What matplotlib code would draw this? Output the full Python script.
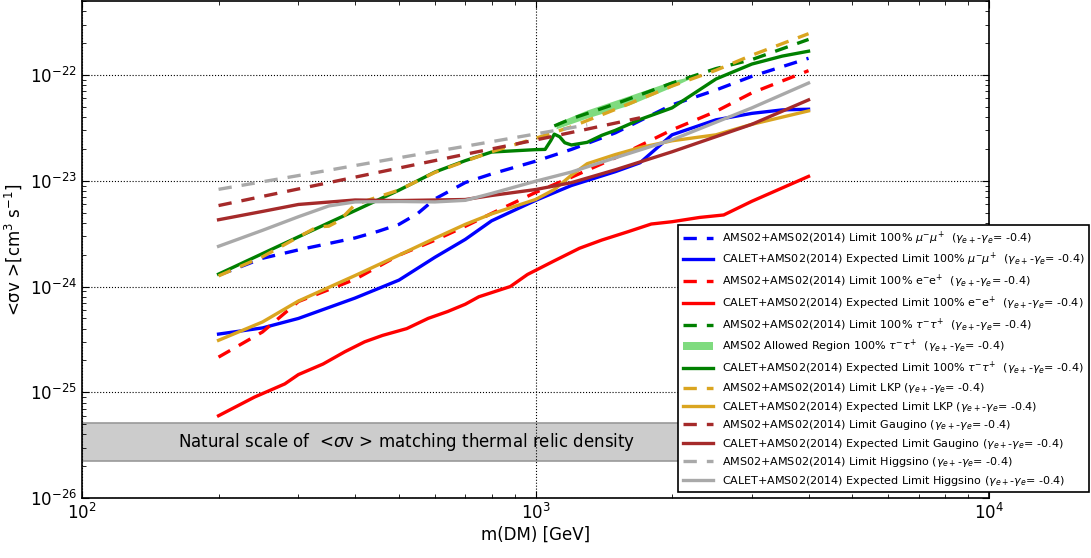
import numpy as np
import matplotlib
matplotlib.use('Agg')
import matplotlib.pyplot as plt

# ---- data (mass in GeV, <sigma v> in cm^3/s)
m_std = [200, 250, 300, 400, 500, 600, 700, 800, 1000, 1200, 1500, 2000, 2500, 3000, 4000]

mu_lim_m = [200, 250, 300, 400, 450, 500, 550, 600, 700, 800, 1000, 1200, 1500, 2000, 2500, 3000, 4000]
mu_lim = [1.28e-24, 1.85e-24, 2.22e-24, 2.88e-24, 3.33e-24, 3.87e-24, 4.91e-24, 6.73e-24, 9.62e-24,
          1.16e-23, 1.53e-23, 1.98e-23, 2.84e-23, 5.22e-23, 7.22e-23, 9.72e-23, 1.44e-22]

mu_exp_m = [200, 250, 300, 400, 500, 600, 700, 800, 1000, 1200, 1500, 1700, 2000, 2500, 3000, 3500, 4000]
mu_exp = [3.55e-25, 4.06e-25, 4.99e-25, 7.78e-25, 1.15e-24, 1.89e-24, 2.79e-24, 4.18e-24, 6.52e-24,
          9.02e-24, 1.22e-23, 1.48e-23, 2.72e-23, 3.77e-23, 4.34e-23, 4.68e-23, 4.75e-23]

e_lim = [2.15e-25, 3.72e-25, 7.21e-25, 1.17e-24, 1.98e-24, 2.74e-24, 3.71e-24, 4.91e-24, 7.75e-24,
         1.08e-23, 1.65e-23, 3.03e-23, 4.53e-23, 6.78e-23, 1.10e-22]

e_exp_m = [200, 240, 280, 300, 340, 380, 420, 460, 520, 580, 640, 700, 750, 880, 960, 1100, 1250, 1400,
           1600, 1800, 2000, 2300, 2600, 3000, 4000]
e_exp = [6.0e-26, 9.0e-26, 1.2e-25, 1.47e-25, 1.85e-25, 2.42e-25, 3.0e-25, 3.45e-25, 4.0e-25, 5.0e-25,
         5.8e-25, 6.8e-25, 8.0e-25, 1.0e-24, 1.3e-24, 1.75e-24, 2.3e-24, 2.75e-24, 3.3e-24, 3.9e-24,
         4.1e-24, 4.5e-24, 4.75e-24, 6.4e-24, 1.10e-23]

tau_lim_m = [1100, 1200, 1500, 2000, 2500, 3000, 4000]
tau_lim = [3.3e-23, 3.86e-23, 5.33e-23, 8.4e-23, 1.15e-22, 1.40e-22, 2.17e-22]

band_m = [1110, 1300, 1600, 2000, 2300]
band_lo = [3.10e-23, 3.93e-23, 5.16e-23, 7.7e-23, 1.02e-22]
band_hi = [3.53e-23, 4.68e-23, 6.34e-23, 8.8e-23, 1.02e-22]

tau_exp_m = [200, 300, 400, 500, 600, 700, 800, 1000, 1050, 1080, 1100, 1130, 1160, 1200, 1300,
             1400, 1500, 1700, 2000, 2500, 3000, 3500, 4000]
tau_exp = [1.31e-24, 2.95e-24, 5.22e-24, 8.15e-24, 1.21e-23, 1.55e-23, 1.87e-23, 1.97e-23, 1.98e-23,
           2.39e-23, 2.76e-23, 2.61e-23, 2.29e-23, 2.18e-23, 2.31e-23, 2.69e-23, 3.0e-23, 3.8e-23,
           4.89e-23, 9.17e-23, 1.27e-22, 1.51e-22, 1.68e-22]

lkp_lim_m = [200, 250, 300, 330, 350, 370, 400, 500, 600, 700, 800, 1000, 1200, 1500, 2000, 2500, 3000, 4000]
lkp_lim = [1.26e-24, 1.91e-24, 2.94e-24, 3.66e-24, 3.72e-24, 4.22e-24, 5.97e-24, 8.17e-24, 1.2e-23,
           1.53e-23, 1.88e-23, 2.52e-23, 3.24e-23, 4.73e-23, 7.87e-23, 1.11e-22, 1.54e-22, 2.46e-22]

lkp_exp_m = [200, 250, 300, 400, 500, 600, 700, 800, 1000, 1100, 1200, 1300, 1500, 1700, 2000, 2500, 3000, 4000]
lkp_exp = [3.1e-25, 4.62e-25, 7.29e-25, 1.27e-24, 1.98e-24, 2.86e-24, 3.87e-24, 4.86e-24, 6.65e-24,
           8.26e-24, 1.13e-23, 1.45e-23, 1.77e-23, 2.06e-23, 2.39e-23, 2.72e-23, 3.42e-23, 4.58e-23]

gau_lim_m = [200, 300, 500, 700, 1000, 1300, 1700]
gau_lim = [5.83e-24, 8.37e-24, 1.32e-23, 1.78e-23, 2.43e-23, 3.08e-23, 3.94e-23]

gau_exp_m = [200, 250, 300, 400, 500, 700, 800, 1000, 1200, 1500, 2000, 3000, 4000]
gau_exp = [4.28e-24, 5.13e-24, 5.97e-24, 6.58e-24, 6.5e-24, 6.65e-24, 7.26e-24, 8.26e-24, 9.6e-24,
           1.27e-23, 1.88e-23, 3.42e-23, 5.82e-23]

hig_lim_m = [200, 300, 500, 700, 1000, 1300]
hig_lim = [8.3e-24, 1.12e-23, 1.65e-23, 2.12e-23, 2.77e-23, 3.38e-23]

hig_exp_m = [200, 250, 300, 350, 400, 500, 600, 700, 800, 1000, 1200, 1500, 2000, 3000, 4000]
hig_exp = [2.40e-24, 3.40e-24, 4.57e-24, 5.78e-24, 6.31e-24, 6.37e-24, 6.31e-24, 6.53e-24, 7.59e-24,
           9.9e-24, 1.21e-23, 1.65e-23, 2.44e-23, 4.89e-23, 8.4e-23]

relic_lo = 2.22e-26
relic_hi = 5.17e-26

gam = r'($\gamma_{e+}$-$\gamma_{e}$= -0.4)'

fig = plt.figure(figsize=(10.91, 5.58), dpi=100)
ax = fig.add_axes([0.0752, 0.1075, 0.8313, 0.8905])

lw = 2.4
dsh = (4, 3)

ax.axhspan(relic_lo, relic_hi, facecolor='0.8', edgecolor='0.6', lw=1.2, zorder=0)
ax.text(521, 3.4e-26, r'Natural scale of  <$\sigma$v > matching thermal relic density',
        fontsize=12, ha='center', va='center')

ax.plot(mu_lim_m, mu_lim, color='b', lw=lw, ls='--', dashes=dsh,
        label=r'AMS02+AMS02(2014) Limit 100% $\mu^{-}\mu^{+}$  ' + gam)
ax.plot(mu_exp_m, mu_exp, color='b', lw=lw,
        label=r'CALET+AMS02(2014) Expected Limit 100% $\mu^{-}\mu^{+}$  ' + gam)
ax.plot(m_std, e_lim, color='r', lw=lw, ls='--', dashes=dsh,
        label=r'AMS02+AMS02(2014) Limit 100% e$^{-}$e$^{+}$  ' + gam)
ax.plot(e_exp_m, e_exp, color='r', lw=lw,
        label=r'CALET+AMS02(2014) Expected Limit 100% e$^{-}$e$^{+}$  ' + gam)
ax.plot(tau_lim_m, tau_lim, color='g', lw=lw, ls='--', dashes=dsh,
        label=r'AMS02+AMS02(2014) Limit 100% $\tau^{-}\tau^{+}$  ' + gam)
ax.fill_between(band_m, band_lo, band_hi, color='#5fd35f', alpha=0.8, lw=0,
                label=r'AMS02 Allowed Region 100% $\tau^{-}\tau^{+}$  ' + gam)
ax.plot(tau_exp_m, tau_exp, color='g', lw=lw,
        label=r'CALET+AMS02(2014) Expected Limit 100% $\tau^{-}\tau^{+}$  ' + gam)
ax.plot(lkp_lim_m, lkp_lim, color='goldenrod', lw=lw, ls='--', dashes=dsh,
        label=r'AMS02+AMS02(2014) Limit LKP ' + gam)
ax.plot(lkp_exp_m, lkp_exp, color='goldenrod', lw=lw,
        label=r'CALET+AMS02(2014) Expected Limit LKP ' + gam)
ax.plot(gau_lim_m, gau_lim, color='brown', lw=lw, ls='--', dashes=dsh,
        label=r'AMS02+AMS02(2014) Limit Gaugino ' + gam)
ax.plot(gau_exp_m, gau_exp, color='brown', lw=lw,
        label=r'CALET+AMS02(2014) Expected Limit Gaugino ' + gam)
ax.plot(hig_lim_m, hig_lim, color='darkgray', lw=lw, ls='--', dashes=dsh,
        label=r'AMS02+AMS02(2014) Limit Higgsino ' + gam)
ax.plot(hig_exp_m, hig_exp, color='darkgray', lw=lw,
        label=r'CALET+AMS02(2014) Expected Limit Higgsino ' + gam)

ax.set_xscale('log')
ax.set_yscale('log')
ax.set_xlim(100, 10000)
ax.set_ylim(1e-26, 5e-22)
ax.grid(True, which='major', color='k', ls=':', lw=0.8)
ax.tick_params(which='both', direction='in', top=True, right=True, labelsize=12)
ax.tick_params(which='major', length=5)
ax.tick_params(which='minor', length=3)
for s in ax.spines.values():
    s.set_linewidth(1.2)
ax.set_xlabel('m(DM) [GeV]', fontsize=12, labelpad=2)
ax.set_ylabel(r'<σv >[cm$^{3}$ s$^{-1}$]', fontsize=12)

leg = ax.legend(loc='lower right', bbox_to_anchor=(0.998, 0.118), bbox_transform=fig.transFigure,
                fontsize=8, handlelength=2.7, fancybox=False, framealpha=1, borderaxespad=0,
                labelspacing=0.4)
leg.get_frame().set_edgecolor('k')
leg.get_frame().set_linewidth(1.2)

fig.savefig('out.png', dpi=100)
